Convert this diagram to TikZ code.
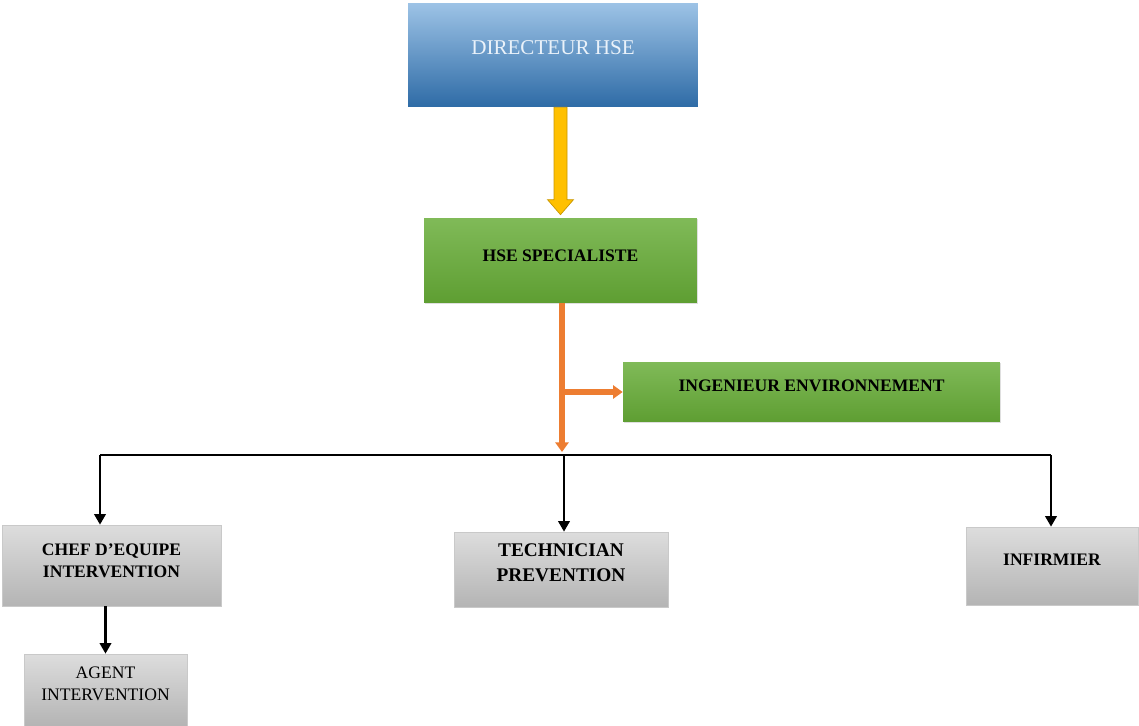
\documentclass[tikz,border=0pt]{standalone}
\usepackage{fontspec}
\setmainfont{Liberation Serif}
\usetikzlibrary{arrows.meta,shadows,calc}

\definecolor{bluetop}{HTML}{9DC3E6}
\definecolor{bluebot}{HTML}{2E6BA6}
\definecolor{greentop}{HTML}{80BA58}
\definecolor{greenbot}{HTML}{5E9E32}
\definecolor{greytop}{HTML}{DDDDDD}
\definecolor{greybot}{HTML}{B4B4B4}
\definecolor{greyline}{HTML}{C9C9C9}
\definecolor{gold}{HTML}{FFC000}
\definecolor{golddark}{HTML}{C99700}
\definecolor{orangeln}{HTML}{ED7D31}
\definecolor{dirtext}{HTML}{EAF2FA}

\tikzset{
  headbox/.style={top color=bluetop, bottom color=bluebot, inner sep=0pt,
    text=dirtext, font=\fontsize{12}{14}\selectfont},
  greenbox/.style={top color=greentop, bottom color=greenbot, inner sep=0pt,
    drop shadow={shadow xshift=0.8pt, shadow yshift=-0.8pt, opacity=0.25},
    font=\bfseries\fontsize{10}{12.5}\selectfont},
  greybox/.style={top color=greytop, bottom color=greybot, draw=greyline,
    inner sep=0pt, align=center, font=\bfseries\fontsize{10}{12.5}\selectfont},
  link/.style={line width=1.3pt, black},
  linkarrow/.style={link, -{Triangle[width=6.5pt,length=6pt]}},
  orangelink/.style={line width=3.2pt, orangeln},
  orangearrow/.style={orangelink, -{Triangle[width=7.5pt,length=5.5pt]}}
}

\begin{document}
\begin{tikzpicture}[x=0.02cm, y=-0.02cm]
  \useasboundingbox (0,0) rectangle (1139,726);

  % boxes
  \node[headbox, minimum width=5.8cm, minimum height=2.08cm, text depth=0.28cm]
    (dir) at (553,55) {DIRECTEUR HSE};
  \node[greenbox, minimum width=5.46cm, minimum height=1.7cm, text depth=0.2cm]
    (spec) at (560.5,260.5) {HSE SPECIALISTE};
  \node[greenbox, minimum width=7.54cm, minimum height=1.2cm, text depth=0.24cm]
    (ing) at (811.5,392) {INGENIEUR ENVIRONNEMENT};
  \node[greybox, minimum width=4.38cm, minimum height=1.62cm, text depth=0.2cm]
    (chef) at (111.5,565.5) {CHEF D’EQUIPE\\INTERVENTION};
  \node[greybox, minimum width=4.28cm, minimum height=1.5cm, text depth=0.28cm,
    font=\bfseries\fontsize{11}{14}\selectfont]
    (tech) at (561,569.5) {TECHNICIAN\\PREVENTION};
  \node[greybox, minimum width=3.44cm, minimum height=1.56cm, text depth=0.24cm]
    (infirm) at (1052,566) {INFIRMIER};
  \node[greybox, minimum width=3.26cm, minimum height=1.44cm, text depth=0.24cm,
    font=\fontsize{10}{12.5}\selectfont]
    (agent) at (105.5,690) {AGENT\\INTERVENTION};

  % yellow block arrow
  \draw[fill=gold, draw=golddark, line width=0.4pt]
    ($(spec.north |- dir.south)+(-6.5,0)$) -- ($(spec.north |- dir.south)+(6.5,0)$)
    -- ($(spec.north)+(6.5,-18)$) -- ($(spec.north)+(13,-18)$)
    -- ($(spec.north)+(0,-3)$) -- ($(spec.north)+(-13,-18)$)
    -- ($(spec.north)+(-6.5,-18)$) -- cycle;

  % orange connectors
  \coordinate (otip) at (562,452);
  \draw[orangearrow] (spec.south -| otip) -- (otip);
  \draw[orangearrow] (otip |- ing.west) -- (ing.west);

  % black bus
  \coordinate (busL) at (100,455);
  \coordinate (busM) at (564,455);
  \coordinate (busR) at (1051,455);
  \draw[link] (busL) -- (busR);
  \draw[linkarrow] (busL) -- (busL |- chef.north);
  \draw[linkarrow] (busM) -- (busM |- tech.north);
  \draw[linkarrow] (busR) -- (busR |- infirm.north);
  \draw[linkarrow] (chef.south -| agent.north) -- (agent.north);
\end{tikzpicture}
\end{document}
